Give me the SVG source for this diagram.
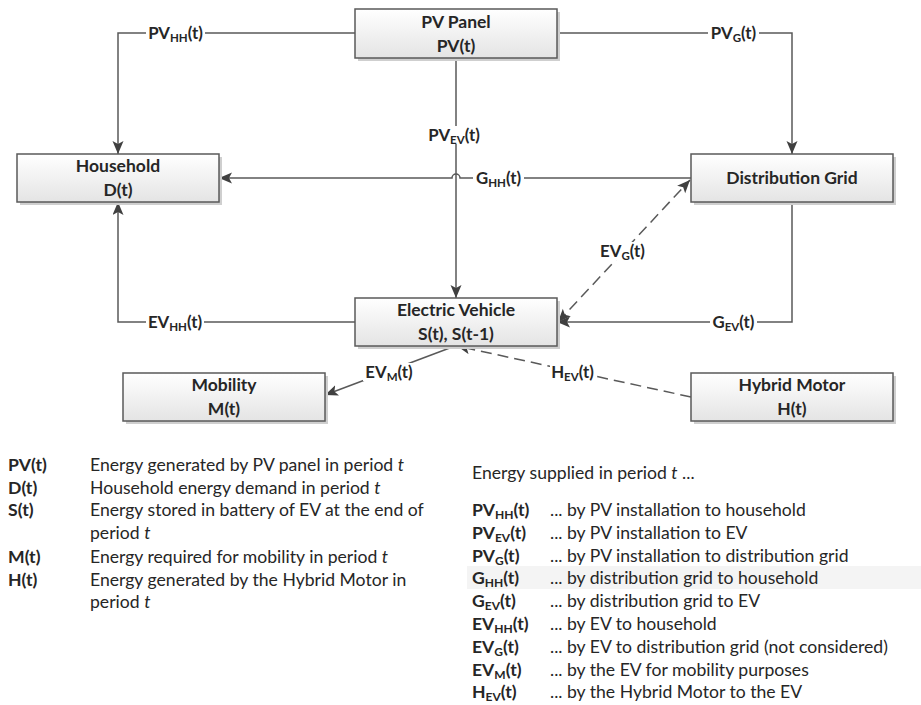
<svg xmlns="http://www.w3.org/2000/svg" width="921" height="705" viewBox="0 0 921 705">
<style>
text{font-family:Lato,"Liberation Sans",sans-serif;fill:#262626}
.nt{font-size:17.5px;font-weight:bold;text-anchor:middle}
.cl{font-size:16.8px;font-weight:bold;text-anchor:middle}
.lg{font-size:17.6px}
.lb{font-size:17.6px;font-weight:bold}
.box{fill:url(#g);stroke:#5a5a5a;stroke-width:1.5}
.sh{fill:#cfcfcf}
.ln{fill:none;stroke:#595959;stroke-width:1.5}
.ds{fill:none;stroke:#595959;stroke-width:1.5;stroke-dasharray:11 6}
.bg{fill:#fff}
</style>
<defs>
<linearGradient id="g" x1="0" y1="0" x2="0" y2="1">
<stop offset="0" stop-color="#ffffff"/>
<stop offset="1" stop-color="#e4e4e4"/>
</linearGradient>
<marker id="a" markerUnits="userSpaceOnUse" markerWidth="14" markerHeight="12" refX="13" refY="5.5" orient="auto-start-reverse">
<path d="M0,0 L13,5.5 L0,11 L3,5.5 z" fill="#404040"/>
</marker>
</defs>
<rect x="467" y="566" width="454" height="23" fill="#f4f4f4"/>
<g id="connectors">
<path class="ln" d="M355,33 H118 V154" marker-end="url(#a)"/>
<path class="ln" d="M557,33 H792 V154" marker-end="url(#a)"/>
<path class="ln" d="M456,58 V298" marker-end="url(#a)"/>
<path class="ln" d="M691,178 H460 A4,4 0 0 0 452,178 H219" marker-end="url(#a)"/>
<path class="ln" d="M355,322 H118 V202" marker-end="url(#a)"/>
<path class="ln" d="M792,202 V322 H557" marker-end="url(#a)"/>
<path class="ds" d="M558,322 L690,180" marker-start="url(#a)" marker-end="url(#a)"/>
<path class="ln" d="M455,346 L325,395" marker-end="url(#a)"/>
<path class="ds" d="M691,397 L457,346" marker-end="url(#a)"/>
<rect class="bg" x="146" y="24" width="59" height="18"/>
<text class="cl" x="175.5" y="39">PV<tspan font-size="11.5" dy="3">HH</tspan><tspan dy="-3">(t)</tspan></text>
<rect class="bg" x="708" y="24" width="51" height="18"/>
<text class="cl" x="733.5" y="39">PV<tspan font-size="11.5" dy="3">G</tspan><tspan dy="-3">(t)</tspan></text>
<rect class="bg" x="426" y="126" width="56" height="18"/>
<text class="cl" x="454" y="141">PV<tspan font-size="11.5" dy="3">EV</tspan><tspan dy="-3">(t)</tspan></text>
<rect class="bg" x="473" y="169" width="51" height="18"/>
<text class="cl" x="498.5" y="184">G<tspan font-size="11.5" dy="3">HH</tspan><tspan dy="-3">(t)</tspan></text>
<rect class="bg" x="598" y="242" width="49" height="18"/>
<text class="cl" x="622.5" y="257">EV<tspan font-size="11.5" dy="3">G</tspan><tspan dy="-3">(t)</tspan></text>
<rect class="bg" x="146" y="313" width="58" height="18"/>
<text class="cl" x="175" y="328">EV<tspan font-size="11.5" dy="3">HH</tspan><tspan dy="-3">(t)</tspan></text>
<rect class="bg" x="710" y="313" width="47" height="18"/>
<text class="cl" x="733.5" y="328">G<tspan font-size="11.5" dy="3">EV</tspan><tspan dy="-3">(t)</tspan></text>
<rect class="bg" x="363" y="363" width="52" height="18"/>
<text class="cl" x="389" y="378">EV<tspan font-size="11.5" dy="3">M</tspan><tspan dy="-3">(t)</tspan></text>
<rect class="bg" x="550" y="363" width="45" height="18"/>
<text class="cl" x="572.5" y="378">H<tspan font-size="11.5" dy="3">EV</tspan><tspan dy="-3">(t)</tspan></text>
</g>
<g id="pv-panel">
<rect class="sh" x="358" y="12" width="202" height="49"/>
<rect class="box" x="355" y="9" width="202" height="49"/>
<text class="nt" x="456" y="28">PV Panel</text>
<text class="nt" x="456" y="52">PV(t)</text>
</g>
<g id="household">
<rect class="sh" x="20" y="157" width="202" height="48"/>
<rect class="box" x="17" y="154" width="202" height="48"/>
<text class="nt" x="118" y="172">Household</text>
<text class="nt" x="118" y="196">D(t)</text>
</g>
<g id="distribution-grid">
<rect class="sh" x="694" y="157" width="202" height="48"/>
<rect class="box" x="691" y="154" width="202" height="48"/>
<text class="nt" x="792" y="184">Distribution Grid</text>
</g>
<g id="electric-vehicle">
<rect class="sh" x="358" y="301" width="202" height="48"/>
<rect class="box" x="355" y="298" width="202" height="48"/>
<text class="nt" x="456" y="316">Electric Vehicle</text>
<text class="nt" x="456" y="340">S(t), S(t-1)</text>
</g>
<g id="mobility">
<rect class="sh" x="126" y="376" width="202" height="48"/>
<rect class="box" x="123" y="373" width="202" height="48"/>
<text class="nt" x="224" y="391">Mobility</text>
<text class="nt" x="224" y="415">M(t)</text>
</g>
<g id="hybrid-motor">
<rect class="sh" x="694" y="376" width="202" height="48"/>
<rect class="box" x="691" y="373" width="202" height="48"/>
<text class="nt" x="792" y="391">Hybrid Motor</text>
<text class="nt" x="792" y="415">H(t)</text>
</g>
<g id="legend-left">
<text class="lb" x="8" y="471">PV(t)</text>
<text class="lg" x="90" y="471">Energy generated by PV panel in period <tspan font-style="italic">t</tspan></text>
<text class="lb" x="8" y="494">D(t)</text>
<text class="lg" x="90" y="494">Household energy demand in period <tspan font-style="italic">t</tspan></text>
<text class="lb" x="8" y="516">S(t)</text>
<text class="lg" x="90" y="516">Energy stored in battery of EV at the end of</text>
<text class="lg" x="90" y="539">period <tspan font-style="italic">t</tspan></text>
<text class="lb" x="8" y="563">M(t)</text>
<text class="lg" x="90" y="563">Energy required for mobility in period <tspan font-style="italic">t</tspan></text>
<text class="lb" x="8" y="586">H(t)</text>
<text class="lg" x="90" y="586">Energy generated by the Hybrid Motor in</text>
<text class="lg" x="90" y="608">period <tspan font-style="italic">t</tspan></text>
</g>
<g id="legend-right">
<text class="lg" x="472" y="479">Energy supplied in period <tspan font-style="italic">t</tspan> ...</text>
<text class="lb" x="472" y="516">PV<tspan font-size="12" dy="2.5">HH</tspan><tspan dy="-2.5">(t)</tspan></text>
<text class="lg" x="550" y="516">... by PV installation to household</text>
<text class="lb" x="472" y="539">PV<tspan font-size="12" dy="2.5">EV</tspan><tspan dy="-2.5">(t)</tspan></text>
<text class="lg" x="550" y="539">... by PV installation to EV</text>
<text class="lb" x="472" y="562">PV<tspan font-size="12" dy="2.5">G</tspan><tspan dy="-2.5">(t)</tspan></text>
<text class="lg" x="550" y="562">... by PV installation to distribution grid</text>
<text class="lb" x="472" y="584">G<tspan font-size="12" dy="2.5">HH</tspan><tspan dy="-2.5">(t)</tspan></text>
<text class="lg" x="550" y="584">... by distribution grid to household</text>
<text class="lb" x="472" y="607">G<tspan font-size="12" dy="2.5">EV</tspan><tspan dy="-2.5">(t)</tspan></text>
<text class="lg" x="550" y="607">... by distribution grid to EV</text>
<text class="lb" x="472" y="630">EV<tspan font-size="12" dy="2.5">HH</tspan><tspan dy="-2.5">(t)</tspan></text>
<text class="lg" x="550" y="630">... by EV to household</text>
<text class="lb" x="472" y="653">EV<tspan font-size="12" dy="2.5">G</tspan><tspan dy="-2.5">(t)</tspan></text>
<text class="lg" x="550" y="653">... by EV to distribution grid (not considered)</text>
<text class="lb" x="472" y="676">EV<tspan font-size="12" dy="2.5">M</tspan><tspan dy="-2.5">(t)</tspan></text>
<text class="lg" x="550" y="676">... by the EV for mobility purposes</text>
<text class="lb" x="472" y="698">H<tspan font-size="12" dy="2.5">EV</tspan><tspan dy="-2.5">(t)</tspan></text>
<text class="lg" x="550" y="698">... by the Hybrid Motor to the EV</text>
</g>
</svg>
